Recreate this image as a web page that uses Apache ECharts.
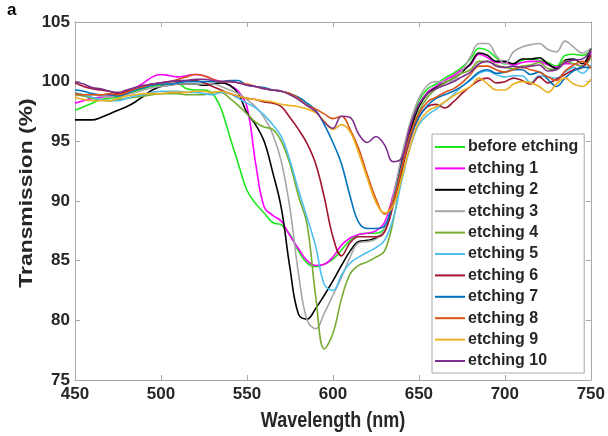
<!DOCTYPE html>
<html>
<head>
<meta charset="utf-8">
<script src="https://cdn.jsdelivr.net/npm/echarts@6/dist/echarts.min.js"></script>
<style>
  html, body { margin: 0; padding: 0; background: #fff; }
  #chart { width: 608px; height: 436px; }
</style>
</head>
<body>
<div id="chart"></div>
<script>
// Wavelength grid (nm), 5 nm steps
const wavelength = [];
for (let w = 450; w <= 750; w += 5) wavelength.push(w);

const xTicks = [450, 500, 550, 600, 650, 700, 750];
const yTicks = [75, 80, 85, 90, 95, 100, 105];

// Transmission (%) for each etching step, one value per wavelength
const beforeEtching = [97.6, 97.9, 98.2, 98.5, 98.6, 98.7, 99.0, 99.2, 99.4, 99.6, 99.7, 99.8, 99.8, 99.4, 99.3, 99.3, 99.0, 97.7, 95.4, 93.1, 90.9, 89.8, 89.0, 88.2, 88.0, 87.2, 85.8, 84.8, 84.5, 84.7, 85.1, 85.9, 86.7, 87.2, 87.3, 87.3, 87.7, 90.0, 93.5, 96.3, 98.4, 99.4, 99.8, 100.3, 100.7, 101.2, 101.9, 102.8, 102.6, 102.0, 101.5, 101.5, 101.8, 101.9, 101.8, 101.6, 101.3, 102.2, 102.3, 102.2, 102.6];
const etching1 = [98.2, 98.4, 98.6, 98.7, 98.8, 98.9, 99.2, 99.5, 99.9, 100.4, 100.6, 100.5, 100.4, 100.5, 100.6, 100.5, 100.2, 100.0, 99.7, 99.2, 97.9, 93.2, 89.5, 88.8, 88.3, 87.1, 86.0, 85.0, 84.6, 84.7, 85.3, 86.3, 86.9, 87.2, 87.3, 87.5, 88.2, 90.5, 93.4, 96.0, 98.0, 99.1, 99.6, 100.1, 100.5, 101.0, 101.4, 102.3, 102.0, 101.6, 101.6, 101.4, 101.6, 101.7, 101.7, 101.4, 101.2, 101.5, 101.5, 101.3, 102.5];
const etching2 = [96.8, 96.8, 96.8, 97.0, 97.3, 97.6, 97.9, 98.3, 98.8, 99.3, 99.6, 99.7, 99.8, 99.8, 99.8, 99.7, 99.8, 99.9, 99.7, 99.0, 97.4, 96.4, 95.0, 92.4, 89.4, 84.4, 80.5, 80.1, 81.0, 82.1, 83.3, 84.6, 85.8, 86.6, 86.7, 86.9, 87.5, 90.0, 93.2, 95.8, 97.9, 99.0, 99.5, 99.9, 100.3, 100.8, 101.5, 102.4, 102.2, 101.7, 101.7, 101.5, 101.9, 101.9, 102.0, 101.5, 101.1, 101.8, 101.9, 101.5, 102.8];
const etching3 = [98.8, 98.9, 98.9, 98.8, 98.7, 98.8, 98.9, 99.1, 99.3, 99.5, 99.6, 99.7, 99.8, 99.8, 99.8, 99.8, 99.8, 99.6, 99.3, 99.0, 98.5, 97.9, 97.0, 95.6, 93.3, 89.4, 83.9, 80.0, 79.3, 80.6, 82.1, 83.6, 85.3, 86.5, 86.6, 86.8, 87.6, 90.3, 93.8, 96.6, 98.6, 99.7, 100.0, 100.0, 100.1, 100.9, 102.1, 103.2, 103.2, 102.2, 101.5, 102.5, 102.9, 103.1, 103.2, 102.7, 102.5, 103.4, 102.9, 102.4, 102.8];
const etching4 = [98.9, 98.8, 98.6, 98.5, 98.4, 98.5, 98.6, 98.7, 98.8, 98.9, 99.0, 99.0, 99.0, 98.9, 98.9, 98.9, 99.1, 99.1, 98.6, 98.0, 97.3, 96.6, 96.2, 96.0, 95.0, 93.1, 90.4, 88.0, 82.0, 77.6, 78.9, 81.8, 83.9, 84.6, 84.9, 85.3, 85.8, 88.3, 92.3, 95.5, 97.5, 98.7, 99.4, 99.9, 100.3, 100.7, 101.0, 101.7, 101.7, 101.4, 101.2, 101.1, 101.3, 101.4, 101.6, 101.1, 101.0, 101.7, 101.5, 101.3, 102.0];
const etching5 = [99.1, 98.9, 98.7, 98.5, 98.4, 98.4, 98.6, 98.8, 98.9, 99.1, 99.2, 99.2, 99.2, 99.1, 99.1, 99.0, 98.9, 99.1, 99.0, 98.6, 98.2, 97.8, 97.2, 96.4, 95.4, 93.4, 90.9, 88.6, 86.2, 83.0, 82.5, 83.8, 84.8, 85.3, 85.7, 86.1, 86.7, 88.5, 91.7, 94.5, 96.4, 97.2, 97.7, 98.3, 98.9, 99.6, 100.1, 100.7, 100.9, 100.6, 100.4, 100.5, 100.5, 99.9, 100.5, 100.4, 100.3, 100.8, 101.2, 100.7, 101.4];
const etching6 = [99.9, 99.6, 99.4, 99.3, 99.2, 99.0, 99.2, 99.4, 99.6, 99.8, 99.9, 100.0, 100.0, 100.1, 100.1, 99.9, 99.6, 99.3, 99.0, 98.8, 98.6, 98.5, 98.3, 98.2, 97.9, 97.0, 96.0, 94.8, 93.1, 90.3, 87.0, 85.4, 86.5, 87.0, 87.0, 87.0, 87.4, 89.6, 92.6, 95.2, 97.0, 97.9, 98.1, 97.8, 98.3, 99.0, 99.6, 100.1, 100.3, 99.9, 100.0, 100.3, 100.1, 99.8, 100.4, 99.9, 100.2, 100.6, 101.0, 101.2, 102.2];
const etching7 = [99.3, 99.2, 99.0, 98.9, 98.9, 98.8, 99.0, 99.3, 99.5, 99.7, 99.8, 99.8, 99.9, 100.0, 100.0, 100.0, 100.0, 100.0, 100.1, 100.1, 99.7, 99.6, 99.5, 99.3, 99.2, 99.0, 98.7, 98.2, 97.6, 96.4, 94.9, 93.1, 90.4, 88.2, 87.7, 87.7, 87.9, 90.0, 93.0, 95.4, 97.0, 98.0, 98.6, 98.9, 99.2, 99.6, 100.2, 100.8, 101.0, 100.7, 100.8, 101.0, 101.0, 100.6, 100.8, 100.2, 99.6, 100.3, 100.9, 101.2, 101.2];
const etching8 = [99.0, 98.9, 98.9, 98.9, 99.0, 98.9, 99.1, 99.4, 99.6, 99.8, 99.9, 100.0, 100.2, 100.4, 100.6, 100.5, 100.2, 100.0, 100.0, 99.9, 99.8, 99.6, 99.4, 99.3, 99.2, 99.0, 98.6, 98.0, 97.7, 97.3, 96.9, 97.1, 96.0, 94.4, 92.2, 90.2, 88.9, 90.0, 92.8, 95.6, 97.3, 98.3, 98.7, 99.1, 99.4, 99.9, 100.6, 101.3, 101.3, 101.0, 100.8, 101.0, 101.2, 101.0, 100.8, 100.4, 100.1, 100.9, 101.4, 101.7, 101.1];
const etching9 = [98.7, 98.5, 98.4, 98.4, 98.4, 98.6, 98.8, 98.9, 99.0, 99.0, 99.0, 99.1, 99.1, 99.1, 99.2, 99.2, 99.1, 99.2, 99.0, 98.8, 98.6, 98.5, 98.4, 98.3, 98.1, 98.0, 97.9, 97.7, 97.4, 96.7, 96.0, 96.4, 95.8, 94.0, 91.9, 89.9, 89.0, 89.6, 91.9, 94.6, 96.6, 97.5, 97.9, 98.3, 98.8, 99.2, 99.6, 100.3, 99.8, 99.3, 99.3, 99.8, 100.0, 99.9, 99.6, 99.1, 99.8, 100.3, 99.8, 99.6, 100.2];
const etching10 = [100.0, 99.8, 99.5, 99.4, 99.2, 99.1, 99.3, 99.5, 99.7, 99.8, 99.9, 100.0, 100.1, 100.1, 100.2, 100.2, 100.1, 100.0, 100.0, 99.9, 99.7, 99.6, 99.4, 99.3, 99.2, 98.9, 98.5, 98.0, 97.5, 96.6, 96.1, 97.1, 97.0, 95.6, 94.9, 95.4, 94.7, 93.3, 93.6, 96.3, 98.1, 99.0, 99.4, 99.7, 100.0, 100.4, 100.8, 101.5, 101.7, 101.3, 101.2, 101.3, 101.2, 101.3, 101.4, 100.9, 101.0, 101.6, 101.8, 101.9, 102.6];

const seriesNames = ['before etching', 'etching 1', 'etching 2', 'etching 3', 'etching 4',
  'etching 5', 'etching 6', 'etching 7', 'etching 8', 'etching 9', 'etching 10'];
const seriesValues = [beforeEtching, etching1, etching2, etching3, etching4,
  etching5, etching6, etching7, etching8, etching9, etching10];
const seriesColors = ['#1ee61e', '#ff00ff', '#000000', '#a6a6a6', '#77ac30',
  '#4dbeee', '#a2142f', '#0072bd', '#d95319', '#edb120', '#7e2f8e'];

const xTitle = 'Wavelength (nm)';
const yTitle = 'Transmission (%)';

const FONT = 'Liberation Sans, Arial, sans-serif';
const TXT = '#262626';
const FRAME = '#a8a8a8';

const chart = echarts.init(document.getElementById('chart'), null, { renderer: 'canvas' });

const frameAxis = (extra) => Object.assign({
  type: 'value',
  axisLine: { show: true, lineStyle: { color: FRAME, width: 1 } },
  axisTick: { show: true, inside: true, length: 5, lineStyle: { color: FRAME } },
  splitLine: { show: false },
  axisLabel: { show: false }
}, extra);

chart.setOption({
  animation: false,
  backgroundColor: '#fff',
  grid: { left: 75, right: 15, top: 22, bottom: 56, containLabel: false },
  xAxis: [
    frameAxis({
      position: 'bottom', min: xTicks[0], max: xTicks[xTicks.length - 1], interval: 50,
      axisLabel: { show: true, color: TXT, fontFamily: FONT, fontWeight: 'bold', fontSize: 17, margin: 6 }
    }),
    frameAxis({ position: 'top', min: xTicks[0], max: xTicks[xTicks.length - 1], interval: 50 })
  ],
  yAxis: [
    frameAxis({
      position: 'left', min: yTicks[0], max: yTicks[yTicks.length - 1], interval: 5,
      axisLabel: { show: true, color: TXT, fontFamily: FONT, fontWeight: 'bold', fontSize: 17, margin: 5 }
    }),
    frameAxis({ position: 'right', min: yTicks[0], max: yTicks[yTicks.length - 1], interval: 5 })
  ],
  legend: {
    orient: 'vertical',
    left: 432, top: 134,
    padding: [5, 6, 4, 3],
    itemWidth: 30, itemHeight: 16, itemGap: 5.4,
    backgroundColor: '#fff',
    borderColor: FRAME, borderWidth: 1,
    icon: 'path://M0,7 L30,7 L30,9 L0,9 Z',
    textStyle: { color: TXT, fontFamily: FONT, fontWeight: 'bold', fontSize: 16, padding: [0, 0, 0, -2] },
    data: seriesNames
  },
  // Axis titles drawn with a slightly tall letterform
  graphic: [
    {
      type: 'text', left: 7, top: 2,
      style: { text: 'a', font: 'bold 17px ' + FONT, fill: '#000' }
    },
    {
      type: 'text', x: 333, y: 421, scaleY: 1.22,
      style: { text: xTitle, font: 'bold 18px ' + FONT, fill: TXT, align: 'center', verticalAlign: 'middle' }
    },
    {
      type: 'text', x: 27, y: 193, rotation: Math.PI / 2, scaleX: 1.27,
      style: { text: yTitle, font: 'bold 18px ' + FONT, fill: TXT, align: 'center', verticalAlign: 'middle' }
    }
  ],
  series: seriesNames.map((name, i) => ({
    name: name,
    type: 'line',
    smooth: 0.4,
    symbol: 'none',
    clip: true,
    color: seriesColors[i],
    lineStyle: { width: 1.6, color: seriesColors[i] },
    data: wavelength.map((w, k) => [w, seriesValues[i][k]])
  }))
});
</script>
</body>
</html>
